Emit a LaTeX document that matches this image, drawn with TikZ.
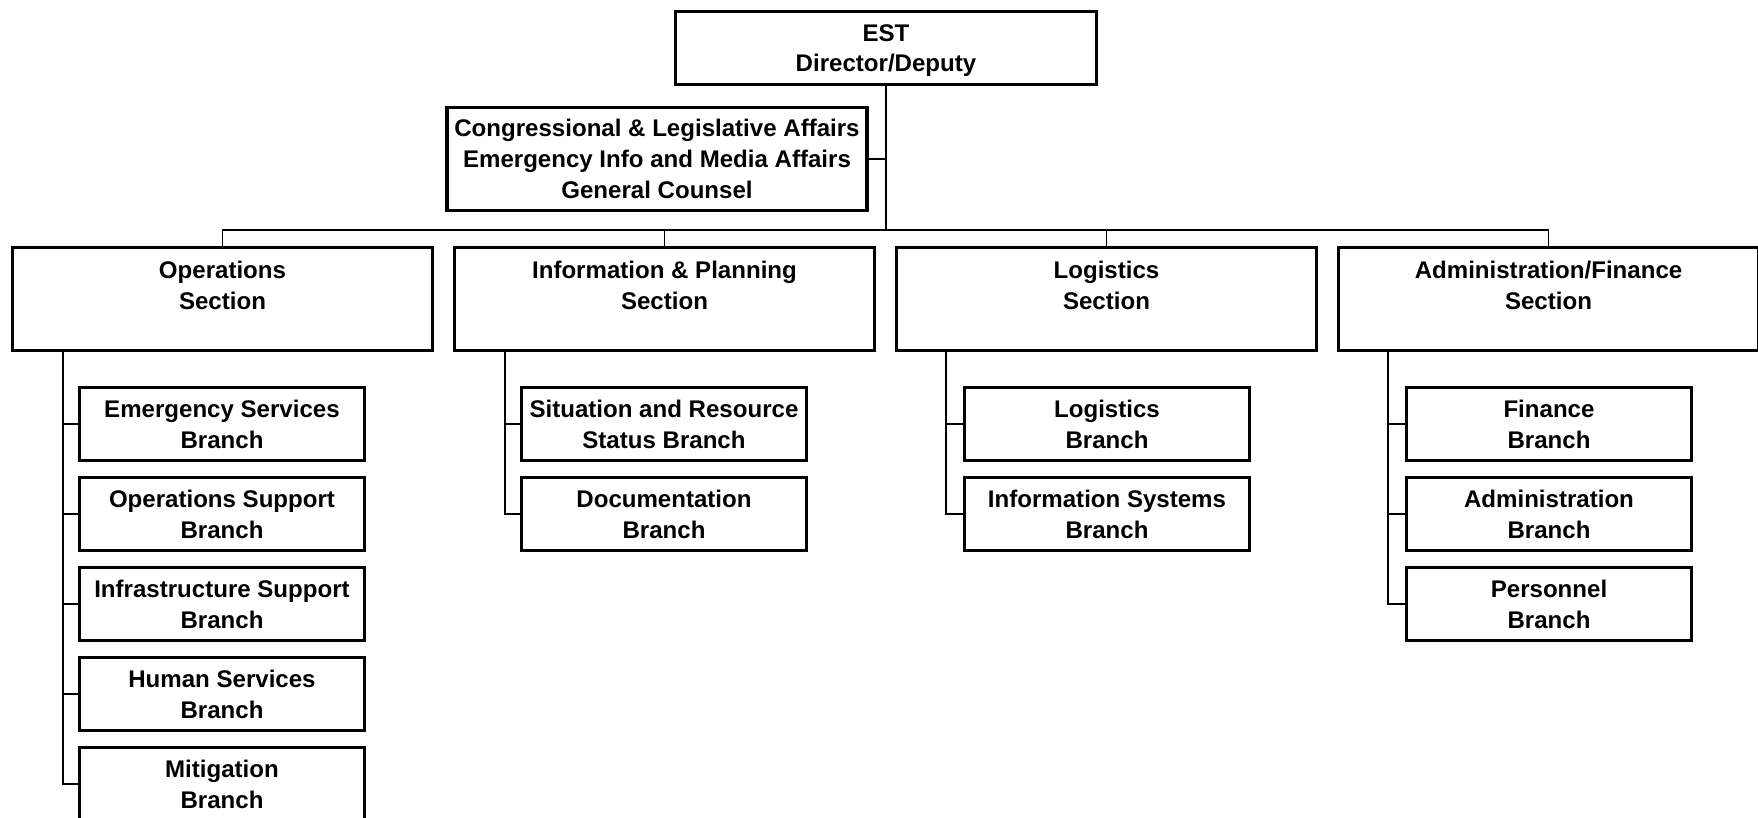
\documentclass[tikz,border=0pt]{standalone}
\usepackage{fontspec}
\setmainfont{Liberation Sans}
\usepackage{tikz}
\usetikzlibrary{positioning,calc}

\begin{document}
\begin{tikzpicture}[x=0.02cm,y=-0.02cm,line width=0.9pt,
  box/.style={draw, line width=2.2pt, align=center, inner sep=0pt, text depth=0pt, font=\fontsize{13.7}{17.5}\selectfont\bfseries},
  sect/.style={box, minimum width=8.4cm, minimum height=2.06cm, text depth=16pt},
  brnch/.style={box, minimum width=5.7cm, minimum height=1.46cm}]
\useasboundingbox (0,0) rectangle (1758,818);
\node[box, minimum width=8.42cm, minimum height=1.46cm] (est) at (886,48) {EST\\Director/Deputy};
\node[box, minimum width=8.4cm, minimum height=2.06cm] (staff) at (657,159) {Congressional \& Legislative Affairs\\Emergency Info and Media Affairs\\General Counsel};
\coordinate (bus) at (886,230);
\draw (est.south) -- (bus);
\draw (staff.east) -- (staff.east -| bus);
% sections
\foreach \s/\x/\t in {ops/222.5/Operations, info/664.5/{Information \& Planning}, log/1106.5/Logistics, adm/1548.5/{Administration/Finance}}{
  \node[sect] (\s) at (\x,299) {\t\\Section};
  \draw (bus) -| (\s.north);
}
% branches
\foreach \j/\t in {1/{Emergency Services\\Branch}, 2/{Operations Support\\Branch}, 3/{Infrastructure Support\\Branch}, 4/{Human Services\\Branch}, 5/{Mitigation\\Branch}}{
  \node[brnch] (ops\j) at (222,334+90*\j) {\t};
  \draw ([xshift=-3.19cm]ops.south) |- (ops\j.west);
}
\foreach \j/\t in {1/{Situation and Resource\\Status Branch}, 2/{Documentation\\Branch}}{
  \node[brnch] (info\j) at (664,334+90*\j) {\t};
  \draw ([xshift=-3.19cm]info.south) |- (info\j.west);
}
\foreach \j/\t in {1/{Logistics\\Branch}, 2/{Information Systems\\Branch}}{
  \node[brnch] (log\j) at (1107,334+90*\j) {\t};
  \draw ([xshift=-3.21cm]log.south) |- (log\j.west);
}
\foreach \j/\t in {1/{Finance\\Branch}, 2/{Administration\\Branch}, 3/{Personnel\\Branch}}{
  \node[brnch] (adm\j) at (1549,334+90*\j) {\t};
  \draw ([xshift=-3.21cm]adm.south) |- (adm\j.west);
}
\end{tikzpicture}
\end{document}
